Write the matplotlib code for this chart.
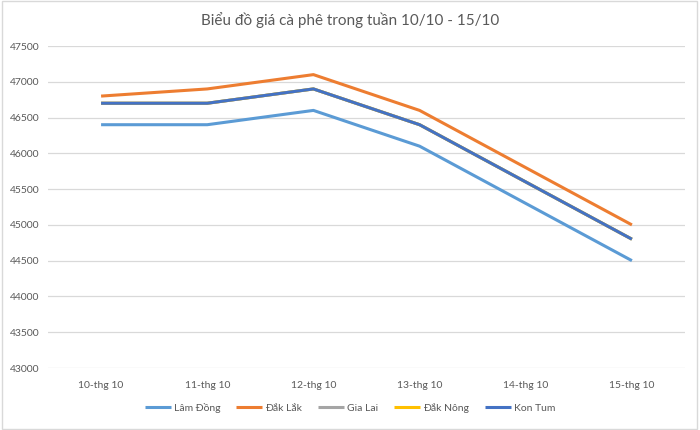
import matplotlib
matplotlib.use("Agg")
import matplotlib.pyplot as plt
from matplotlib.patches import Rectangle

categories = ["10-thg 10", "11-thg 10", "12-thg 10", "13-thg 10", "14-thg 10", "15-thg 10"]
lam_dong = [46400, 46400, 46600, 46100, 45300, 44500]
dak_lak = [46800, 46900, 47100, 46600, 45800, 45000]
gia_lai = [46700, 46700, 46900, 46400, 45600, 44800]
dak_nong = [46700, 46700, 46900, 46400, 45600, 44800]
kon_tum = [46700, 46700, 46900, 46400, 45600, 44800]
yticks = [43000, 43500, 44000, 44500, 45000, 45500, 46000, 46500, 47000, 47500]

plt.rcParams['font.family'] = ['Lato', 'DejaVu Sans']

fig = plt.figure(figsize=(7, 4.3), dpi=100)
ax = fig.add_axes([48/700, 1-368/430, (685-48)/700, (368-46)/430])

series = [
    ("Lâm Đồng", lam_dong, "#5B9BD5"),
    ("Đắk Lắk", dak_lak, "#ED7D31"),
    ("Gia Lai", gia_lai, "#A5A5A5"),
    ("Đắk Nông", dak_nong, "#FFC000"),
    ("Kon Tum", kon_tum, "#4472C4"),
]
x = list(range(len(categories)))
for name, vals, col in series:
    ax.plot(x, vals, color=col, lw=2.2, label=name, solid_capstyle='butt')

ax.set_xlim(-0.5, len(categories) - 0.5)
ax.set_ylim(43000, 47500)
ax.set_yticks(yticks)
ax.set_yticklabels([str(v) for v in yticks], fontsize=7.5, color="#595959")
ax.set_xticks(x)
ax.set_xticklabels(categories, fontsize=7.5, color="#595959")
ax.tick_params(axis='both', length=0)
ax.tick_params(axis='x', pad=9)
ax.tick_params(axis='y', pad=6)
ax.grid(axis='y', color="#D9D9D9", lw=0.9)
ax.set_axisbelow(True)
for s in ax.spines.values():
    s.set_visible(False)

fig.text(0.5, 1 - 20/430, "Biểu đồ giá cà phê trong tuần 10/10 - 15/10",
         ha='center', va='center', fontsize=11, color="#595959")

leg = fig.legend(loc='center', bbox_to_anchor=(0.5, 1 - 408/430), ncol=5,
                 frameon=False, fontsize=7.5, handlelength=2.5, columnspacing=1.5,
                 handletextpad=0.3)
for t in leg.get_texts():
    t.set_color("#595959")

fig.patches.append(Rectangle((0.003, 0.003), 0.992, 0.994, transform=fig.transFigure,
                             fill=False, edgecolor="#D9D9D9", lw=1))

fig.savefig("out.png", dpi=100)
